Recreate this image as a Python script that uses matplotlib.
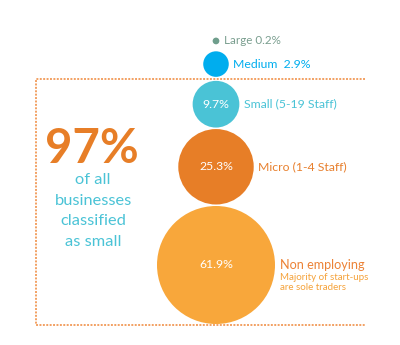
import matplotlib
matplotlib.use("Agg")
import matplotlib.pyplot as plt
import numpy as np
from matplotlib.patches import Circle

plt.rcParams["font.family"] = ["Lato", "DejaVu Sans"]

# business size shares, smallest on top
names = ["Large", "Medium", "Small (5-19 Staff)", "Micro (1-4 Staff)", "Non employing"]
shares = [0.2, 2.9, 9.7, 25.3, 61.9]
fills = ["#6F9E8C", "#00ADEE", "#4AC3D6", "#E77E27", "#F8A73B"]
label_colors = ["#7A9E8F", "#00ADEE", "#4AC3D6", "#E8802E", "#EC8236"]
gaps_above = [7.0, 4.0, 1.5, 1.5]   # space between consecutive circles
headline = "97%"
headline_sub = ["of all", "businesses", "classified", "as small"]
note_lines = ["Majority of start-ups", "are sole traders"]

W, H = 400, 345
fig = plt.figure(figsize=(W / 100, H / 100), dpi=100)
ax = fig.add_axes([0, 0, 1, 1])
ax.set_xlim(0, W)
ax.set_ylim(H, 0)
ax.set_aspect("equal")
ax.axis("off")

# circle area proportional to the share
k = 59.0 / np.sqrt(max(shares))
radii = [k * np.sqrt(s) for s in shares]
cx = 216.0
cy = [0.0] * len(shares)
cy[-1] = 265.0
for i in range(len(shares) - 2, -1, -1):
    cy[i] = cy[i + 1] - radii[i + 1] - gaps_above[i] - radii[i]

# dotted frame, open on the right
box_col = "#F2A062"
ls = (0, (1.0, 0.75))
ax.plot([365, 36, 36, 365], [79, 79, 325, 325], color=box_col, lw=1.4,
        linestyle=ls, solid_capstyle="butt", zorder=1)

for i, (n, s, r, y) in enumerate(zip(names, shares, radii, cy)):
    ax.add_patch(Circle((cx, y), r, facecolor=fills[i], edgecolor="none", zorder=2))
    tx = cx + r + 4.5
    if i == 0:
        ax.text(tx, y, f"{n} {s:.1f}%", color=label_colors[i], fontsize=8.4,
                va="center", ha="left", zorder=3)
    elif i == 1:
        ax.text(tx, y, f"{n}  {s:.1f}%", color=label_colors[i], fontsize=8.8,
                va="center", ha="left", zorder=3)
    else:
        ax.text(cx, y, f"{s:.1f}%", color="white", fontsize=8.8,
                va="center", ha="center", zorder=3)
        ax.text(tx, y, n, color=label_colors[i],
                fontsize=9.1 if i == 4 else 8.8, va="center", ha="left", zorder=3)

# extra note under the non employing label
for j, line in enumerate(note_lines):
    ax.text(cx + radii[-1] + 4.5, cy[-1] + 13 + 10 * j, line, color="#F5A23A",
            fontsize=7.0, va="center", ha="left")

ax.text(92, 149, headline, color="#E77E27", fontsize=34, fontweight="bold",
        va="center", ha="center")
for j, line in enumerate(headline_sub):
    ax.text(93, 180 + 20.7 * j, line, color="#4AC3D6", fontsize=11.8,
            va="center", ha="center")

fig.savefig("out.png", dpi=100)
